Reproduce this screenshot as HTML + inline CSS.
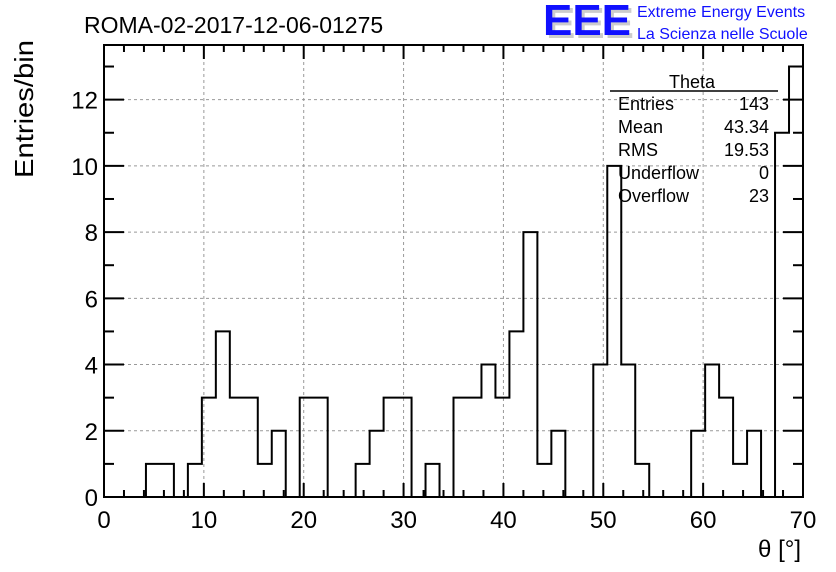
<!DOCTYPE html>
<html><head><meta charset="utf-8"><style>
body{margin:0;background:#fff;}
svg{display:block;font-family:"Liberation Sans",sans-serif;}
</style></head><body>
<svg id="c" width="836" height="572">
<rect width="836" height="572" fill="#fff"/>
<text x="84" y="33" font-size="23">ROMA-02-2017-12-06-01275</text>
<g>
<text x="546" y="38" font-size="44" fill="#ccc" font-weight="bold" textLength="88" lengthAdjust="spacingAndGlyphs">EEE</text>
<text x="543" y="35" font-size="44" fill="#1010ff" font-weight="bold" textLength="88" lengthAdjust="spacingAndGlyphs">EEE</text>
<text x="637" y="17" font-size="16" fill="#1010ff">Extreme Energy Events</text>
<text x="637" y="39" font-size="16" fill="#1010ff">La Scienza nelle Scuole</text>
</g>
<g id="grid"></g>
<g id="hist"></g>
<g id="axes"></g>
<text x="33" y="40" font-size="26" transform="rotate(-90 33 40)" text-anchor="end" textLength="138" lengthAdjust="spacingAndGlyphs">Entries/bin</text>
<text x="801" y="557" font-size="24" text-anchor="end">θ [°]</text>
<g font-size="18">
<text x="692" y="88" text-anchor="middle">Theta</text>
<line x1="610" y1="91" x2="778" y2="91" stroke="#000" stroke-width="1.5"/>
<text x="618" y="110">Entries</text><text x="769" y="110" text-anchor="end">143</text>
<text x="618" y="133">Mean</text><text x="769" y="133" text-anchor="end">43.34</text>
<text x="618" y="156">RMS</text><text x="769" y="156" text-anchor="end">19.53</text>
<text x="618" y="179">Underflow</text><text x="769" y="179" text-anchor="end">0</text>
<text x="618" y="202">Overflow</text><text x="769" y="202" text-anchor="end">23</text>
</g>
</svg>
<script>
const binEdgesStart = 0;
const binWidth = 1.4;
const counts = [0,0,0,1,1,0,1,3,5,3,3,1,2,0,3,3,0,0,1,2,3,3,0,1,0,3,3,4,3,5,8,1,2,0,0,4,10,4,1,0,0,0,2,4,3,1,2,0,11,13];
const xTicks = [0,10,20,30,40,50,60,70];
const yTicks = [0,2,4,6,8,10,12];
const X0=104,X1=803,Y0=497,Y1=45,XMAX=70,YMAX=13.65;
const sx=v=>X0+(X1-X0)*v/XMAX;
const sy=v=>Y0-(Y0-Y1)*v/YMAX;
const NS="http://www.w3.org/2000/svg";
function mk(t,a,p){const e=document.createElementNS(NS,t);for(const k in a)e.setAttribute(k,a[k]);p.appendChild(e);return e;}
const grid=document.getElementById('grid'),hist=document.getElementById('hist'),axes=document.getElementById('axes');
xTicks.forEach(v=>{if(v>0&&v<XMAX){const l=mk('line',{x1:sx(v),x2:sx(v),y1:Y0,y2:Y1,stroke:'#999','stroke-dasharray':'3,3'},grid);

}});
yTicks.forEach(v=>{if(v>0){const l=mk('line',{x1:X0,x2:X1,y1:sy(v),y2:sy(v),stroke:'#999','stroke-dasharray':'3,3'},grid);

}});
let d=`M${sx(binEdgesStart)},${sy(0)}`;
counts.forEach((c,i)=>{const a=sx(binEdgesStart+i*binWidth),b=sx(binEdgesStart+(i+1)*binWidth);d+=` L${a},${sy(c)} L${b},${sy(c)}`;});
d+=` L${sx(binEdgesStart+counts.length*binWidth)},${sy(0)}`;
const p=mk('path',{d:d,fill:'none',stroke:'#000','stroke-width':2},hist);


const fr=mk('rect',{x:X0,y:Y1,width:X1-X0,height:Y0-Y1,fill:'none',stroke:'#000','stroke-width':2},axes);


for(let v=0;v<=XMAX;v+=2){const L=(v%10==0)?14:7;
mk('line',{x1:sx(v),x2:sx(v),y1:Y0,y2:Y0-L,stroke:'#000','stroke-width':2},axes);
mk('line',{x1:sx(v),x2:sx(v),y1:Y1,y2:Y1+L,stroke:'#000','stroke-width':2},axes);}
for(let v=0;v<=13;v+=1){const L=(v%2==0)?20:10;
mk('line',{x1:X0,x2:X0+L,y1:sy(v),y2:sy(v),stroke:'#000','stroke-width':2},axes);
mk('line',{x1:X1,x2:X1-L,y1:sy(v),y2:sy(v),stroke:'#000','stroke-width':2},axes);}
xTicks.forEach(v=>{const t=mk('text',{x:sx(v),y:Y0+31,'font-size':24,'text-anchor':'middle'},axes);t.textContent=v;

});
yTicks.forEach(v=>{const t=mk('text',{x:X0-6,y:sy(v)+9,'font-size':24,'text-anchor':'end'},axes);t.textContent=v;

});
</script>
</body></html>
